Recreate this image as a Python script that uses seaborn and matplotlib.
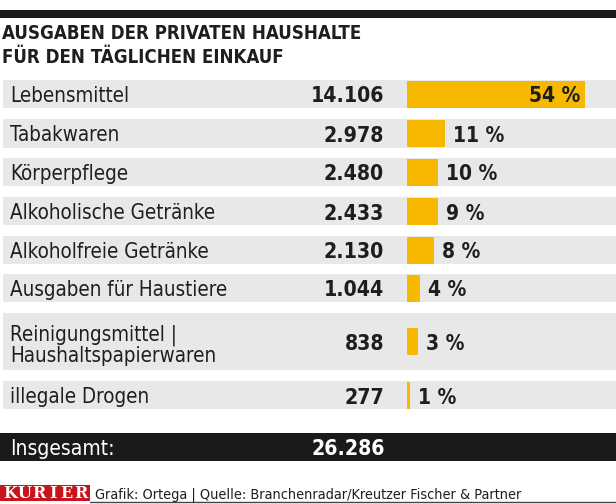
import numpy as np
import pandas as pd
import matplotlib
matplotlib.use("Agg")
import matplotlib.pyplot as plt
import matplotlib.transforms as mtransforms
from matplotlib.patches import Rectangle
from matplotlib import font_manager
import seaborn as sns

# ---------------- data ----------------
categories = [
    "Lebensmittel",
    "Tabakwaren",
    "Körperpflege",
    "Alkoholische Getränke",
    "Alkoholfreie Getränke",
    "Ausgaben für Haustiere",
    "Reinigungsmittel |\nHaushaltspapierwaren",
    "illegale Drogen",
]
values = [14106, 2978, 2480, 2433, 2130, 1044, 838, 277]
shares = [54, 11, 10, 9, 8, 4, 3, 1]
total_label = "Insgesamt:"
total_value = 26286
title_lines = ["AUSGABEN DER PRIVATEN HAUSHALTE", "FÜR DEN TÄGLICHEN EINKAUF"]
source_text = "Grafik: Ortega | Quelle: Branchenradar/Kreutzer Fischer & Partner"
brand = "KURIER"

# ---------------- layout (pixels) ----------------
W, H = 616, 504
row_centers = [94, 133, 172, 211, 250, 288, 341.5, 395]
row_heights = [28, 29, 28, 28, 28, 28, 57, 28]
bar_x0 = 407
units_per_px = 79.25

BAR = "#F6B900"
GRAY = "#E8E8E8"
DARK = "#1E1E1E"
BLACK = "#1A1A1A"
RED = "#C8141C"

sns.set_theme(style="white")
plt.rcParams["font.family"] = ["DejaVu Sans"]

has_cond = any(f.name == "DejaVu Sans" and f.stretch == "condensed"
               for f in font_manager.fontManager.ttflist)
names = {f.name for f in font_manager.fontManager.ttflist}
STRETCH = "condensed" if has_cond else "normal"
NARROW = "Liberation Sans Narrow" if "Liberation Sans Narrow" in names else "DejaVu Sans"

FS_LABEL = 14.8
FS_NUM = 15.2
FS_PCT = 15.0
FS_TITLE = 13.4


def de(n):
    return f"{n:,}".replace(",", ".")


fig = plt.figure(figsize=(W / 100, H / 100), dpi=100)
fig.patch.set_facecolor("white")

ax = fig.add_axes([0, 0, 1, 1])
ax.set_xlim(0, W)
ax.set_ylim(H, 0)
ax.axis("off")

# top black rule
ax.add_patch(Rectangle((0, 10), W, 7.5, color=BLACK, lw=0))

# title
for i, line in enumerate(title_lines):
    ax.text(2, 39 + i * 24, line, fontsize=FS_TITLE, fontweight="bold",
            fontstretch=STRETCH, color=DARK, va="baseline", ha="left")

# row backgrounds, labels, numbers
for cat, val, yc, h in zip(categories, values, row_centers, row_heights):
    ax.add_patch(Rectangle((3, yc - h / 2), W - 3, h, color=GRAY, lw=0, zorder=0))
    lines = cat.split("\n")
    if len(lines) == 1:
        ax.text(10, yc + 8, lines[0], fontsize=FS_LABEL, fontstretch=STRETCH,
                color=DARK, va="baseline", ha="left")
    else:
        for j, ln in enumerate(lines):
            ax.text(10, yc - 1.5 + j * 21.5, ln, fontsize=FS_LABEL, fontstretch=STRETCH,
                    color=DARK, va="baseline", ha="left")
    ax.text(384, yc + 8.5, de(val), fontsize=FS_NUM, fontweight="bold",
            fontstretch=STRETCH, color=DARK, va="baseline", ha="right")

# total row
ax.add_patch(Rectangle((0, 433), W, 28, color=BLACK, lw=0))
ax.text(10, 455, total_label, fontsize=15.0, fontstretch=STRETCH,
        color="white", va="baseline", ha="left")
ax.text(385, 455, de(total_value), fontsize=FS_NUM, fontweight="bold",
        fontstretch=STRETCH, color="white", va="baseline", ha="right")

# footer
ax.add_patch(Rectangle((0, 485), 90, 15.5, color=RED, lw=0))
for k, ch in enumerate(brand):
    ax.text(10 + k * 14.2, 498.5, ch, fontsize=11.5, fontweight="bold",
            family="DejaVu Serif", color="white", va="baseline", ha="center")
ax.plot([90, W], [502, 502], color="#444444", lw=1)
src = ax.text(95, 498, source_text, fontsize=12, family=NARROW,
              fontstretch=STRETCH, color=DARK, va="baseline", ha="left")

# fit footer width to ~424 px
fig.canvas.draw()
bb = src.get_window_extent()
if bb.width > 424:
    src.set_fontsize(12 * 424 / bb.width)

# ---------------- bars via seaborn ----------------
axb = fig.add_axes([bar_x0 / W, 0, (W - bar_x0) / W, 1])
axb.patch.set_alpha(0)
df = pd.DataFrame({"Kategorie": categories, "Wert": values, "y": row_centers})
min_gap = np.min(np.diff(sorted(row_centers)))
sns.barplot(data=df, x="Wert", y="y", orient="y", native_scale=True,
            width=27 / min_gap, color=BAR, saturation=1, errorbar=None,
            linewidth=0, ax=axb)
axb.set_xlim(0, (W - bar_x0) * units_per_px)
axb.set_ylim(H, 0)
axb.axis("off")

for i, (val, sh, yc) in enumerate(zip(values, shares, row_centers)):
    if i == 0:
        tr = mtransforms.offset_copy(axb.transData, fig=fig, x=-5, y=0, units="dots")
        axb.text(val, yc + 8.5, f"{sh} %", transform=tr, fontsize=FS_PCT,
                 fontweight="bold", fontstretch=STRETCH, color=DARK,
                 va="baseline", ha="right")
    else:
        tr = mtransforms.offset_copy(axb.transData, fig=fig, x=8, y=0, units="dots")
        axb.text(val, yc + 8.5, f"{sh} %", transform=tr, fontsize=FS_PCT,
                 fontweight="bold", fontstretch=STRETCH, color=DARK,
                 va="baseline", ha="left")

fig.savefig("out.png", dpi=100, facecolor="white")
